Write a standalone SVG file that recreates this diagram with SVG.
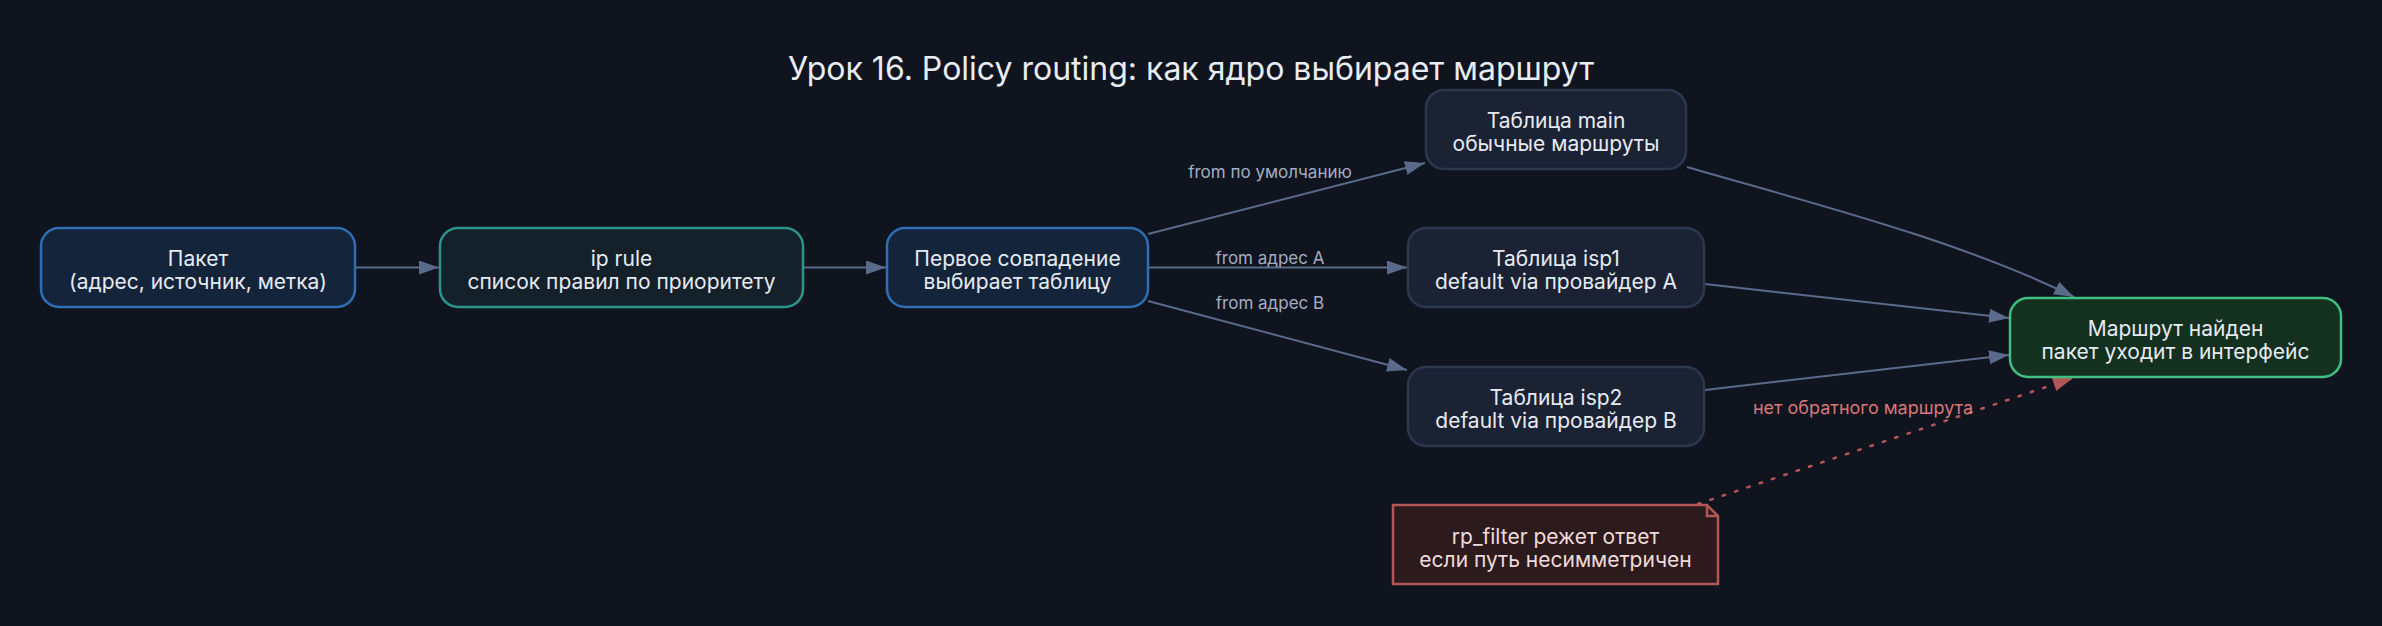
<svg xmlns="http://www.w3.org/2000/svg" width="2382" height="626" viewBox="0 0 2382 626">
<defs>
<marker id="ah" viewBox="0 0 20 14" refX="20" refY="7" markerWidth="20" markerHeight="14" markerUnits="userSpaceOnUse" orient="auto"><path d="M0,0 L20,7 L0,14 Z" fill="#5a6a8a"/></marker>
<marker id="ahr" viewBox="0 0 20 14" refX="20" refY="7" markerWidth="20" markerHeight="14" markerUnits="userSpaceOnUse" orient="auto"><path d="M0,0 L20,7 L0,14 Z" fill="#b35656"/></marker>
<style>
text{font-family:Inter,"Liberation Sans",sans-serif;text-anchor:middle}
.t{font-size:21px;fill:#e6eaf2}
.title{font-size:32px;fill:#e8ecf3}
.lbl{font-size:17px;fill:#a4adc2}
.lblr{font-size:18px;fill:#d97777}
.e{fill:none;stroke:#5a6a8a;stroke-width:2;marker-end:url(#ah)}
.blue{fill:#14253b;stroke:#2f6db5;stroke-width:2.5}
.teal{fill:#14202a;stroke:#2b958a;stroke-width:2.5}
.tbl{fill:#1b2233;stroke:#2c3750;stroke-width:2.5}
.ok{fill:#14301f;stroke:#3fbf80;stroke-width:2.5}
.note{fill:#2c1a1d;stroke:#b35656;stroke-width:2.5}
</style>
</defs>
<rect width="2382" height="626" fill="#10141f"/>
<text class="title" x="1191" y="80">Урок 16. Policy routing: как ядро выбирает маршрут</text>
<g id="connectors">
<path class="e" d="M355,267.5 L439,267.5"/>
<path class="e" d="M803,267.5 L886,267.5"/>
<path class="e" d="M1148,234 L1425,163"/>
<path class="e" d="M1148,267.5 L1407,267.5"/>
<path class="e" d="M1148,301 L1407,370"/>
<path class="e" d="M1687,167 C1800,200 1960,240 2074,297"/>
<path class="e" d="M1705,284 L2009,318"/>
<path class="e" d="M1705,390 L2009,355"/>
<path d="M1698,504 L2073,378" fill="none" stroke="#b35656" stroke-width="2.5" stroke-dasharray="2.5 10.5" stroke-linecap="round" marker-end="url(#ahr)"/>
<text class="lbl" x="1270" y="178">from по умолчанию</text>
<text class="lbl" x="1270" y="264">from адрес A</text>
<text class="lbl" x="1270" y="309">from адрес B</text>
<text class="lblr" x="1863" y="414">нет обратного маршрута</text>
</g>
<g id="packet"><rect class="blue" x="41" y="228" width="314" height="79" rx="18"/><text class="t" x="198" y="266">Пакет</text><text class="t" x="198" y="288.5">(адрес, источник, метка)</text></g>
<g id="iprule"><rect class="teal" x="440" y="228" width="363" height="79" rx="18"/><text class="t" x="621.5" y="266">ip rule</text><text class="t" x="621.5" y="288.5">список правил по приоритету</text></g>
<g id="first"><rect class="blue" x="887" y="228" width="261" height="79" rx="18"/><text class="t" x="1017.5" y="266">Первое совпадение</text><text class="t" x="1017.5" y="288.5">выбирает таблицу</text></g>
<g id="main"><rect class="tbl" x="1426" y="90" width="260" height="79" rx="18"/><text class="t" x="1556" y="128">Таблица main</text><text class="t" x="1556" y="150.5">обычные маршруты</text></g>
<g id="isp1"><rect class="tbl" x="1408" y="228" width="296" height="79" rx="18"/><text class="t" x="1556" y="266">Таблица isp1</text><text class="t" x="1556" y="288.5">default via провайдер A</text></g>
<g id="isp2"><rect class="tbl" x="1408" y="367" width="296" height="79" rx="18"/><text class="t" x="1556" y="405">Таблица isp2</text><text class="t" x="1556" y="427.5">default via провайдер B</text></g>
<g id="found"><rect class="ok" x="2010" y="298" width="331" height="79" rx="18"/><text class="t" x="2175.5" y="336">Маршрут найден</text><text class="t" x="2175.5" y="358.5">пакет уходит в интерфейс</text></g>
<g id="rpfilter"><path class="note" d="M1393,505 H1707 L1718,516 V584 H1393 Z"/><path d="M1707,505 V516 H1718" fill="none" stroke="#b35656" stroke-width="2.5"/><text class="t" x="1555.5" y="544" style="fill:#f0dada">rp_filter режет ответ</text><text class="t" x="1555.5" y="566.5" style="fill:#f0dada">если путь несимметричен</text></g>
</svg>
